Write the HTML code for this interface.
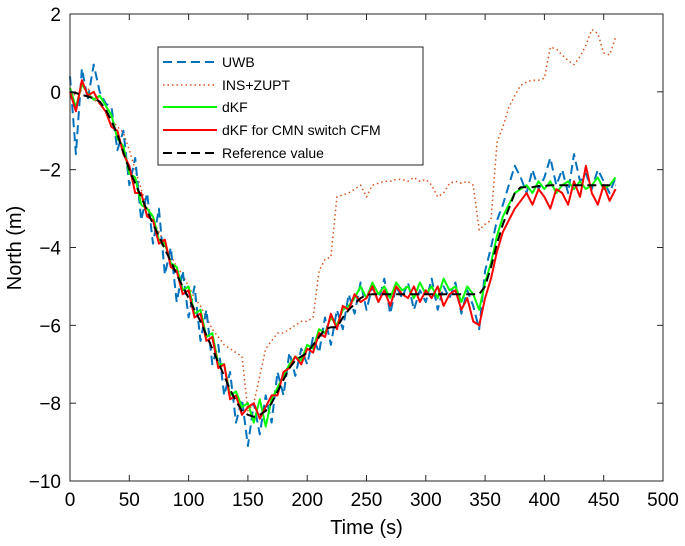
<!DOCTYPE html>
<html><head><meta charset="utf-8"><style>
html,body{margin:0;padding:0;background:#fff;}
svg{display:block;font-family:"Liberation Sans",Arial,sans-serif;}
</style></head><body>
<svg id="chart" width="685" height="546" viewBox="0 0 685 546" xmlns="http://www.w3.org/2000/svg">
<g id="series"></g>
<g id="axes"></g>
<g id="legend">
  <rect x="158" y="47" width="265" height="118" fill="#fff" stroke="#262626" stroke-width="1"/>
  <line x1="163" y1="62" x2="217" y2="62" stroke="#0072bd" stroke-width="2" stroke-dasharray="9,5"/>
  <text x="222" y="67" font-size="14">UWB</text>
  <line x1="163" y1="85" x2="217" y2="85" stroke="#d95319" stroke-width="1.5" stroke-dasharray="1.5,3"/>
  <text x="222" y="90" font-size="14">INS+ZUPT</text>
  <line x1="163" y1="107" x2="217" y2="107" stroke="#00ff00" stroke-width="2"/>
  <text x="222" y="112" font-size="14">dKF</text>
  <line x1="163" y1="130" x2="217" y2="130" stroke="#ff0000" stroke-width="2"/>
  <text x="222" y="135" font-size="14">dKF for CMN switch CFM</text>
  <line x1="163" y1="153" x2="217" y2="153" stroke="#000" stroke-width="2" stroke-dasharray="9,5"/>
  <text x="222" y="158" font-size="14">Reference value</text>
</g>
</svg>
<script>
const tStart = 0, tStep = 5;
const refValues = [0,-0.03,-0.08,-0.12,-0.17,-0.25,-0.45,-0.75,-1.1,-1.55,
-2.0,-2.35,-2.7,-3.05,-3.4,-3.7,-4.05,-4.35,-4.7,-5.0,
-5.3,-5.6,-5.9,-6.25,-6.6,-6.95,-7.3,-7.65,-7.95,-8.2,
-8.3,-8.35,-8.3,-8.2,-8.0,-7.7,-7.4,-7.1,-6.9,-6.8,
-6.7,-6.5,-6.3,-6.1,-6.05,-6.05,-5.8,-5.6,-5.45,-5.3,
-5.22,-5.2,-5.2,-5.2,-5.2,-5.2,-5.2,-5.2,-5.2,-5.2,
-5.2,-5.2,-5.2,-5.2,-5.2,-5.2,-5.2,-5.2,-5.2,-5.2,
-5.0,-4.5,-3.9,-3.4,-3.0,-2.6,-2.45,-2.45,-2.45,-2.42,
-2.42,-2.4,-2.4,-2.4,-2.4,-2.4,-2.4,-2.4,-2.4,-2.4,
-2.4,-2.4,-2.4];
const uwbValues = [0.4,-1.6,0.6,-0.2,0.7,0.0,-0.3,-0.4,-1.5,-1.0,
-2.4,-1.7,-3.3,-2.6,-3.9,-3.0,-4.7,-4.0,-5.4,-4.6,
-5.8,-5.0,-6.4,-5.6,-7.0,-6.5,-7.8,-7.2,-8.5,-7.9,
-9.1,-8.0,-8.8,-7.8,-8.5,-7.2,-7.8,-6.7,-7.3,-6.6,
-7.0,-6.3,-6.7,-5.8,-6.5,-5.6,-6.1,-5.2,-5.7,-4.9,
-5.6,-5.0,-5.4,-4.8,-5.7,-5.0,-5.3,-4.9,-5.6,-5.1,
-5.4,-4.8,-5.6,-5.0,-5.3,-4.9,-5.7,-5.1,-5.5,-6.1,
-4.6,-4.0,-3.3,-2.9,-2.4,-1.9,-2.2,-2.6,-2.0,-2.5,
-2.2,-1.7,-2.4,-2.0,-2.6,-1.6,-2.3,-2.1,-2.5,-2.0,
-2.3,-2.6,-2.2];
const insValues = [0,-0.1,0.05,0.1,-0.2,-0.3,-0.5,-0.7,-0.9,-1.05,
-1.5,-2.0,-2.5,-3.0,-3.3,-3.6,-3.9,-4.2,-4.5,-4.7,
-5.0,-5.3,-5.5,-5.8,-6.1,-6.3,-6.5,-6.6,-6.7,-6.8,
-8.2,-8.0,-7.3,-6.6,-6.4,-6.2,-6.2,-6.1,-6.0,-5.9,
-5.9,-5.8,-4.6,-4.3,-4.25,-2.7,-2.65,-2.6,-2.5,-2.4,
-2.7,-2.4,-2.35,-2.3,-2.3,-2.25,-2.25,-2.3,-2.2,-2.3,
-2.25,-2.4,-2.7,-2.6,-2.35,-2.3,-2.35,-2.3,-2.4,-3.55,
-3.4,-3.3,-1.3,-0.9,-0.4,-0.1,0.17,0.25,0.3,0.3,
0.35,1.15,1.1,0.95,0.8,0.7,0.9,1.2,1.6,1.5,
1.0,0.95,1.4];
const dkfValues = [0.1,-0.4,0.2,-0.05,-0.2,-0.1,-0.35,-0.6,-1.2,-1.4,
-2.1,-2.2,-2.9,-3.0,-3.2,-3.8,-3.9,-4.4,-4.5,-5.1,
-5.0,-5.7,-5.6,-6.3,-6.2,-7.0,-7.0,-7.8,-7.7,-8.1,
-8.0,-8.5,-7.9,-8.6,-7.9,-7.6,-7.3,-7.0,-6.8,-6.9,
-6.5,-6.6,-6.1,-6.2,-5.8,-6.0,-5.6,-5.5,-5.3,-5.0,
-5.3,-4.9,-5.2,-5.0,-5.3,-4.9,-5.1,-5.0,-5.3,-4.9,
-5.2,-5.0,-5.3,-4.8,-5.1,-5.0,-5.4,-5.0,-5.2,-5.6,
-4.9,-4.4,-3.7,-3.2,-2.9,-2.6,-2.5,-2.4,-2.6,-2.3,
-2.5,-2.3,-2.6,-2.4,-2.3,-2.5,-2.3,-2.5,-2.4,-2.2,
-2.5,-2.4,-2.2];
const dkfCmnValues = [0,-0.5,0.3,-0.1,0.0,-0.3,-0.5,-0.9,-1.0,-1.6,
-1.9,-2.6,-2.6,-3.2,-3.3,-3.9,-3.8,-4.5,-4.6,-5.2,
-5.1,-5.8,-5.7,-6.4,-6.3,-7.1,-7.0,-7.9,-7.8,-8.3,
-8.1,-8.0,-8.4,-8.1,-7.8,-7.8,-7.2,-7.1,-6.8,-7.0,
-6.6,-6.7,-6.2,-6.3,-5.7,-6.1,-5.5,-5.6,-5.2,-5.4,
-5.3,-5.0,-5.4,-5.1,-5.5,-5.0,-5.2,-5.3,-5.0,-5.4,
-5.1,-5.3,-5.0,-5.5,-5.2,-5.1,-5.6,-5.3,-5.9,-6.0,
-5.3,-4.8,-4.1,-3.6,-3.3,-3.0,-2.8,-2.6,-2.9,-2.5,
-2.7,-3.0,-2.5,-2.6,-2.9,-2.3,-2.7,-1.9,-2.6,-2.9,
-2.4,-2.8,-2.5];
const xTicks = [0,50,100,150,200,250,300,350,400,450,500];
const yTicks = [-10,-8,-6,-4,-2,0,2];

const NS = "http://www.w3.org/2000/svg";
const L = 70, R = 663, T = 14, B = 481;
const xMin = 0, xMax = 500, yMin = -10, yMax = 2;
function xs(v){ return L + (v - xMin) / (xMax - xMin) * (R - L); }
function ys(v){ return B - (v - yMin) / (yMax - yMin) * (B - T); }
function mk(tag, attrs, parent){
  const e = document.createElementNS(NS, tag);
  for (const k in attrs) e.setAttribute(k, attrs[k]);
  parent.appendChild(e);
  return e;
}
const sg = document.getElementById('series');
function drawSeries(vals, name, stroke, width, dash){
  const d = vals.map((v,i)=>(i?'L':'M') + xs(tStart + i*tStep).toFixed(1) + ' ' + ys(v).toFixed(1)).join(' ');
  const p = mk('path', {d:d, fill:'none', stroke:stroke, 'stroke-width':width, 'stroke-linejoin':'round'}, sg);
  if (dash) p.setAttribute('stroke-dasharray', dash);
  
  
}
drawSeries(insValues, 'ins-zupt-series', '#d95319', 1.5, '1.5,3');
drawSeries(uwbValues, 'uwb-series', '#0072bd', 2, '9,5');
drawSeries(dkfValues, 'dkf-series', '#00ff00', 2, null);
drawSeries(dkfCmnValues, 'dkf-cmn-series', '#ff0000', 2, null);
drawSeries(refValues, 'reference-series', '#000000', 2, '9,5');

const ag = document.getElementById('axes');
const box = mk('rect', {x:L, y:T, width:R-L, height:B-T, fill:'none', stroke:'#262626', 'stroke-width':1}, ag);


xTicks.forEach(t=>{
  const x = xs(t);
  mk('line', {x1:x, y1:B, x2:x, y2:B-6, stroke:'#262626'}, ag);
  mk('line', {x1:x, y1:T, x2:x, y2:T+6, stroke:'#262626'}, ag);
  const tx = mk('text', {x:x, y:B+25, 'font-size':19, 'text-anchor':'middle', fill:'#000'}, ag);
  tx.textContent = t;
  
  
});
yTicks.forEach(t=>{
  const y = ys(t);
  mk('line', {x1:L, y1:y, x2:L+6, y2:y, stroke:'#262626'}, ag);
  mk('line', {x1:R, y1:y, x2:R-6, y2:y, stroke:'#262626'}, ag);
  const tx = mk('text', {x:L-9, y:y+7, 'font-size':19, 'text-anchor':'end', fill:'#000'}, ag);
  tx.textContent = t < 0 ? '\u2212' + Math.abs(t) : String(t);
  
  
});
const xl = mk('text', {x:(L+R)/2, y:534, 'font-size':20, 'text-anchor':'middle'}, ag);
xl.textContent = 'Time (s)';


const yl = mk('text', {x:0, y:0, 'font-size':20, 'text-anchor':'middle', transform:'translate(21,248) rotate(-90)'}, ag);
yl.textContent = 'North (m)';


</script>
</body></html>
